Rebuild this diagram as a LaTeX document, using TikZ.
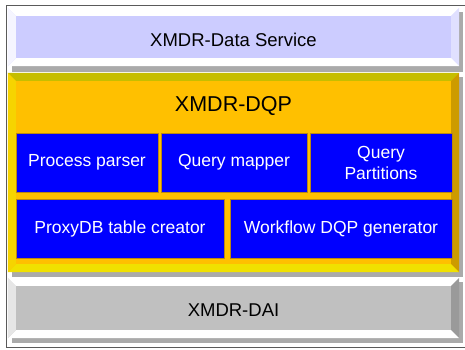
\documentclass[tikz,border=0pt]{standalone}
\usepackage{fontspec}
\setmainfont{Liberation Sans}
\usepackage{tikz}
\usetikzlibrary{positioning,calc}
\definecolor{BandLav}{RGB}{204,204,255}
\definecolor{BandGold}{RGB}{255,192,0}
\definecolor{BandGray}{RGB}{192,192,192}
\definecolor{BoxBlue}{RGB}{0,0,255}
\definecolor{BoxEdge}{RGB}{185,135,20}
\definecolor{ShadowGray}{RGB}{170,170,170}
\definecolor{FrameGray}{RGB}{90,90,90}
\definecolor{BevelOlive}{RGB}{198,190,0}
\definecolor{BevelLemon}{RGB}{240,225,0}
\definecolor{BevelAmber}{RGB}{205,155,0}
\tikzset{
  % Layer band
  band/.style={
    rectangle,
    draw=none,
    minimum width=451pt,
    inner sep=0pt,
    font=\fontsize{18.5}{20}\selectfont
  },
  % Module box inside the DQP band
  module/.style={
    rectangle,
    draw=BoxEdge,
    fill=BoxBlue,
    text=white,
    minimum height=59pt,
    inner sep=0pt,
    align=center,
    font=\fontsize{17.5}{21}\selectfont
  },
  % Drop shadow
  shadowbox/.style={
    fill=ShadowGray
  }
}
% bevel strips round a band: node, top, right, bottom, left colours
\newcommand{\bandbevel}[5]{
  \fill[#2] (#1.north west) -- (#1.north east) -- ($(#1.north east)+(-8,8)$) -- ($(#1.north west)+(8,8)$) -- cycle;
  \fill[#3] (#1.north east) -- (#1.south east) -- ($(#1.south east)+(-8,-8)$) -- ($(#1.north east)+(-8,8)$) -- cycle;
  \fill[#4] (#1.south west) -- (#1.south east) -- ($(#1.south east)+(-8,-8)$) -- ($(#1.south west)+(8,-8)$) -- cycle;
  \fill[#5] (#1.north west) -- (#1.south west) -- ($(#1.south west)+(8,-8)$) -- ($(#1.north west)+(8,8)$) -- cycle;
}

\begin{document}
\begin{tikzpicture}[x=1pt,y=-1pt]
  \useasboundingbox (0,0) rectangle (465,349);
  \fill[white] (0,0) rectangle (465,349);
  \draw[FrameGray, line width=1pt] (6,5) -- (6,347) -- (470,347);
  \draw[FrameGray, line width=1pt] (6,5) -- (470,5);
  % shadows
  \fill[shadowbox] (12,12) rectangle (463,72);
  \fill[shadowbox] (12,77) rectangle (463,277);
  \fill[shadowbox] (12,282) rectangle (463,343);
  % layers
  \node[band, fill=BandLav, minimum height=58pt] (ds) at (233.5,37) {};
  \bandbevel{ds}{white}{BandLav!60!white}{white}{white!80!BandLav}
  \node[font=\fontsize{18.5}{20}\selectfont] (dstext) at (233.5,40) {XMDR-Data Service};
  \node[band, fill=BandGold, minimum height=199pt] (dqp) at (233.5,172.5) {};
  \bandbevel{dqp}{BevelOlive}{BevelAmber}{BevelLemon}{BevelLemon!60!BandGold}
  \node[font=\fontsize{21.5}{24}\selectfont] (dqptext) at (233.5,106) {XMDR-DQP};
  \node[band, fill=BandGray, minimum height=60pt] (dai) at (233.5,308) {};
  \bandbevel{dai}{white}{BandGray!80!black}{white}{white!60!BandGray}
  \node[font=\fontsize{18.5}{20}\selectfont] (daitext) at (233.5,310) {XMDR-DAI};
  % modules
  \node[module, minimum width=142pt] (pparser) at (87,162.5) {Process parser};
  \node[module, minimum width=146pt] (qmapper) at (234,162.5) {Query mapper};
  \node[module, minimum width=142pt] (qpart) at (381,162.5) {Query\\Partitions};
  \node[module, minimum width=208pt] (proxy) at (120,228.5) {ProxyDB table creator};
  \node[module, minimum width=222pt] (wfgen) at (341,228.5) {Workflow DQP generator};
\end{tikzpicture}
\end{document}
